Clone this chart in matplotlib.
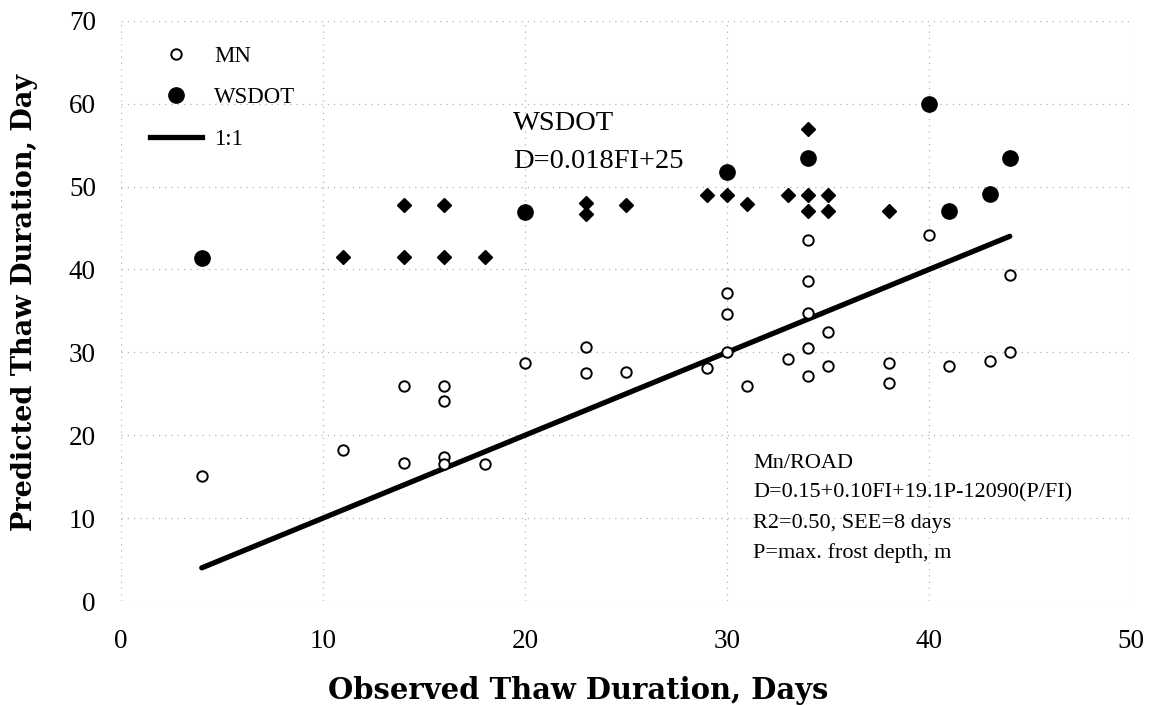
import matplotlib
matplotlib.use("Agg")
import matplotlib.pyplot as plt
from matplotlib.lines import Line2D

plt.rcParams["font.family"] = ["Liberation Serif", "DejaVu Serif"]

# Mn/ROAD observed vs predicted thaw duration (days)
mn_obs = [4, 11, 14, 14, 16, 16, 16, 16, 18, 20, 23, 23, 25, 29,
          30, 30, 30, 31, 33, 34, 34, 34, 34, 34, 35, 35, 38, 38,
          40, 41, 43, 44, 44]
mn_pred = [15.1, 18.2, 25.9, 16.7, 25.9, 24.1, 17.4, 16.5, 16.5, 28.7, 30.7, 27.5, 27.6, 28.1,
           37.2, 34.6, 30.1, 26.0, 29.2, 43.5, 38.6, 34.8, 30.5, 27.1, 32.5, 28.3, 28.7, 26.3,
           44.2, 28.3, 29.0, 39.3, 30.1]

# WSDOT predictions (D = 0.018FI + 25)
ws_obs = [4, 20, 30, 34, 40, 41, 43, 44]
ws_pred = [41.4, 46.9, 51.7, 53.4, 60.0, 47.1, 49.1, 53.4]

ws_site_obs = [11, 14, 16, 18, 14, 16, 23, 23, 25, 29, 30, 31, 33, 34, 35,
               34, 35, 38, 34]
ws_site_pred = [41.5, 41.5, 41.5, 41.5, 47.8, 47.8, 48.0, 46.7, 47.8, 49.0, 49.0, 47.9,
                49.0, 49.0, 49.0, 47.0, 47.0, 47.0, 57.0]

# 1:1 reference line
line_x = [4, 44]
line_y = [4, 44]

x_ticks = [0, 10, 20, 30, 40, 50]
y_ticks = [0, 10, 20, 30, 40, 50, 60, 70]

fig = plt.figure(figsize=(11.51, 7.05), dpi=100)
ax = fig.add_axes([0.1051, 0.1475, 0.8775, 0.8230])

ax.set_xlim(0, 50)
ax.set_ylim(0, 70)
ax.set_xticks(x_ticks)
ax.set_yticks(y_ticks)
for s in ax.spines.values():
    s.set_visible(False)
ax.tick_params(length=0, labelsize=19.5)
ax.tick_params(axis="x", pad=20)
ax.tick_params(axis="y", pad=18)
ax.grid(True, color="#9a9a9a", linestyle=(0, (1, 4)), linewidth=0.9, alpha=0.75)
ax.set_axisbelow(True)

ax.plot(line_x, line_y, color="black", linewidth=3.8, solid_capstyle="round", zorder=3)
ax.plot(mn_obs, mn_pred, linestyle="none", marker="o", markersize=7.5,
        markerfacecolor="white", markeredgecolor="black", markeredgewidth=1.4, zorder=4)
ax.plot(ws_site_obs, ws_site_pred, linestyle="none", marker="D", markersize=7.5,
        color="black", zorder=4)
ax.plot(ws_obs, ws_pred, linestyle="none", marker="o", markersize=11,
        color="black", zorder=4)

ax.set_xlabel("Observed Thaw Duration, Days", family=["DejaVu Serif"], size=20.9,
              weight="bold")
ax.xaxis.set_label_coords(0.453, -0.130)
ax.set_ylabel("Predicted Thaw Duration, Day", family=["DejaVu Serif"], size=19.5,
              weight="bold")
ax.yaxis.set_label_coords(-0.082, 0.515)

handles = [
    Line2D([], [], linestyle="none", marker="o", markersize=7.5, markerfacecolor="white",
           markeredgecolor="black", markeredgewidth=1.4),
    Line2D([], [], linestyle="none", marker="o", markersize=11, color="black"),
    Line2D([], [], color="black", linewidth=3.8),
]
ax.legend(handles, ["MN", "WSDOT", "1:1"], loc="upper left", frameon=False,
          fontsize=16.5, bbox_to_anchor=(0.008, 0.992), handlelength=2.3,
          handletextpad=0.5, labelspacing=0.88)

ax.text(19.4, 57.6, "WSDOT", fontsize=20.5, va="center")
ax.text(19.4, 53.0, "D=0.018FI+25", fontsize=20.5, va="center")

mn_lines = ["Mn/ROAD", "D=0.15+0.10FI+19.1P-12090(P/FI)",
            "R2=0.50, SEE=8 days", "P=max. frost depth, m"]
for i, t in enumerate(mn_lines):
    ax.text(31.3, 16.6 - i * 3.6, t, fontsize=16, va="center")

fig.savefig("out.png", dpi=100, facecolor="white")
